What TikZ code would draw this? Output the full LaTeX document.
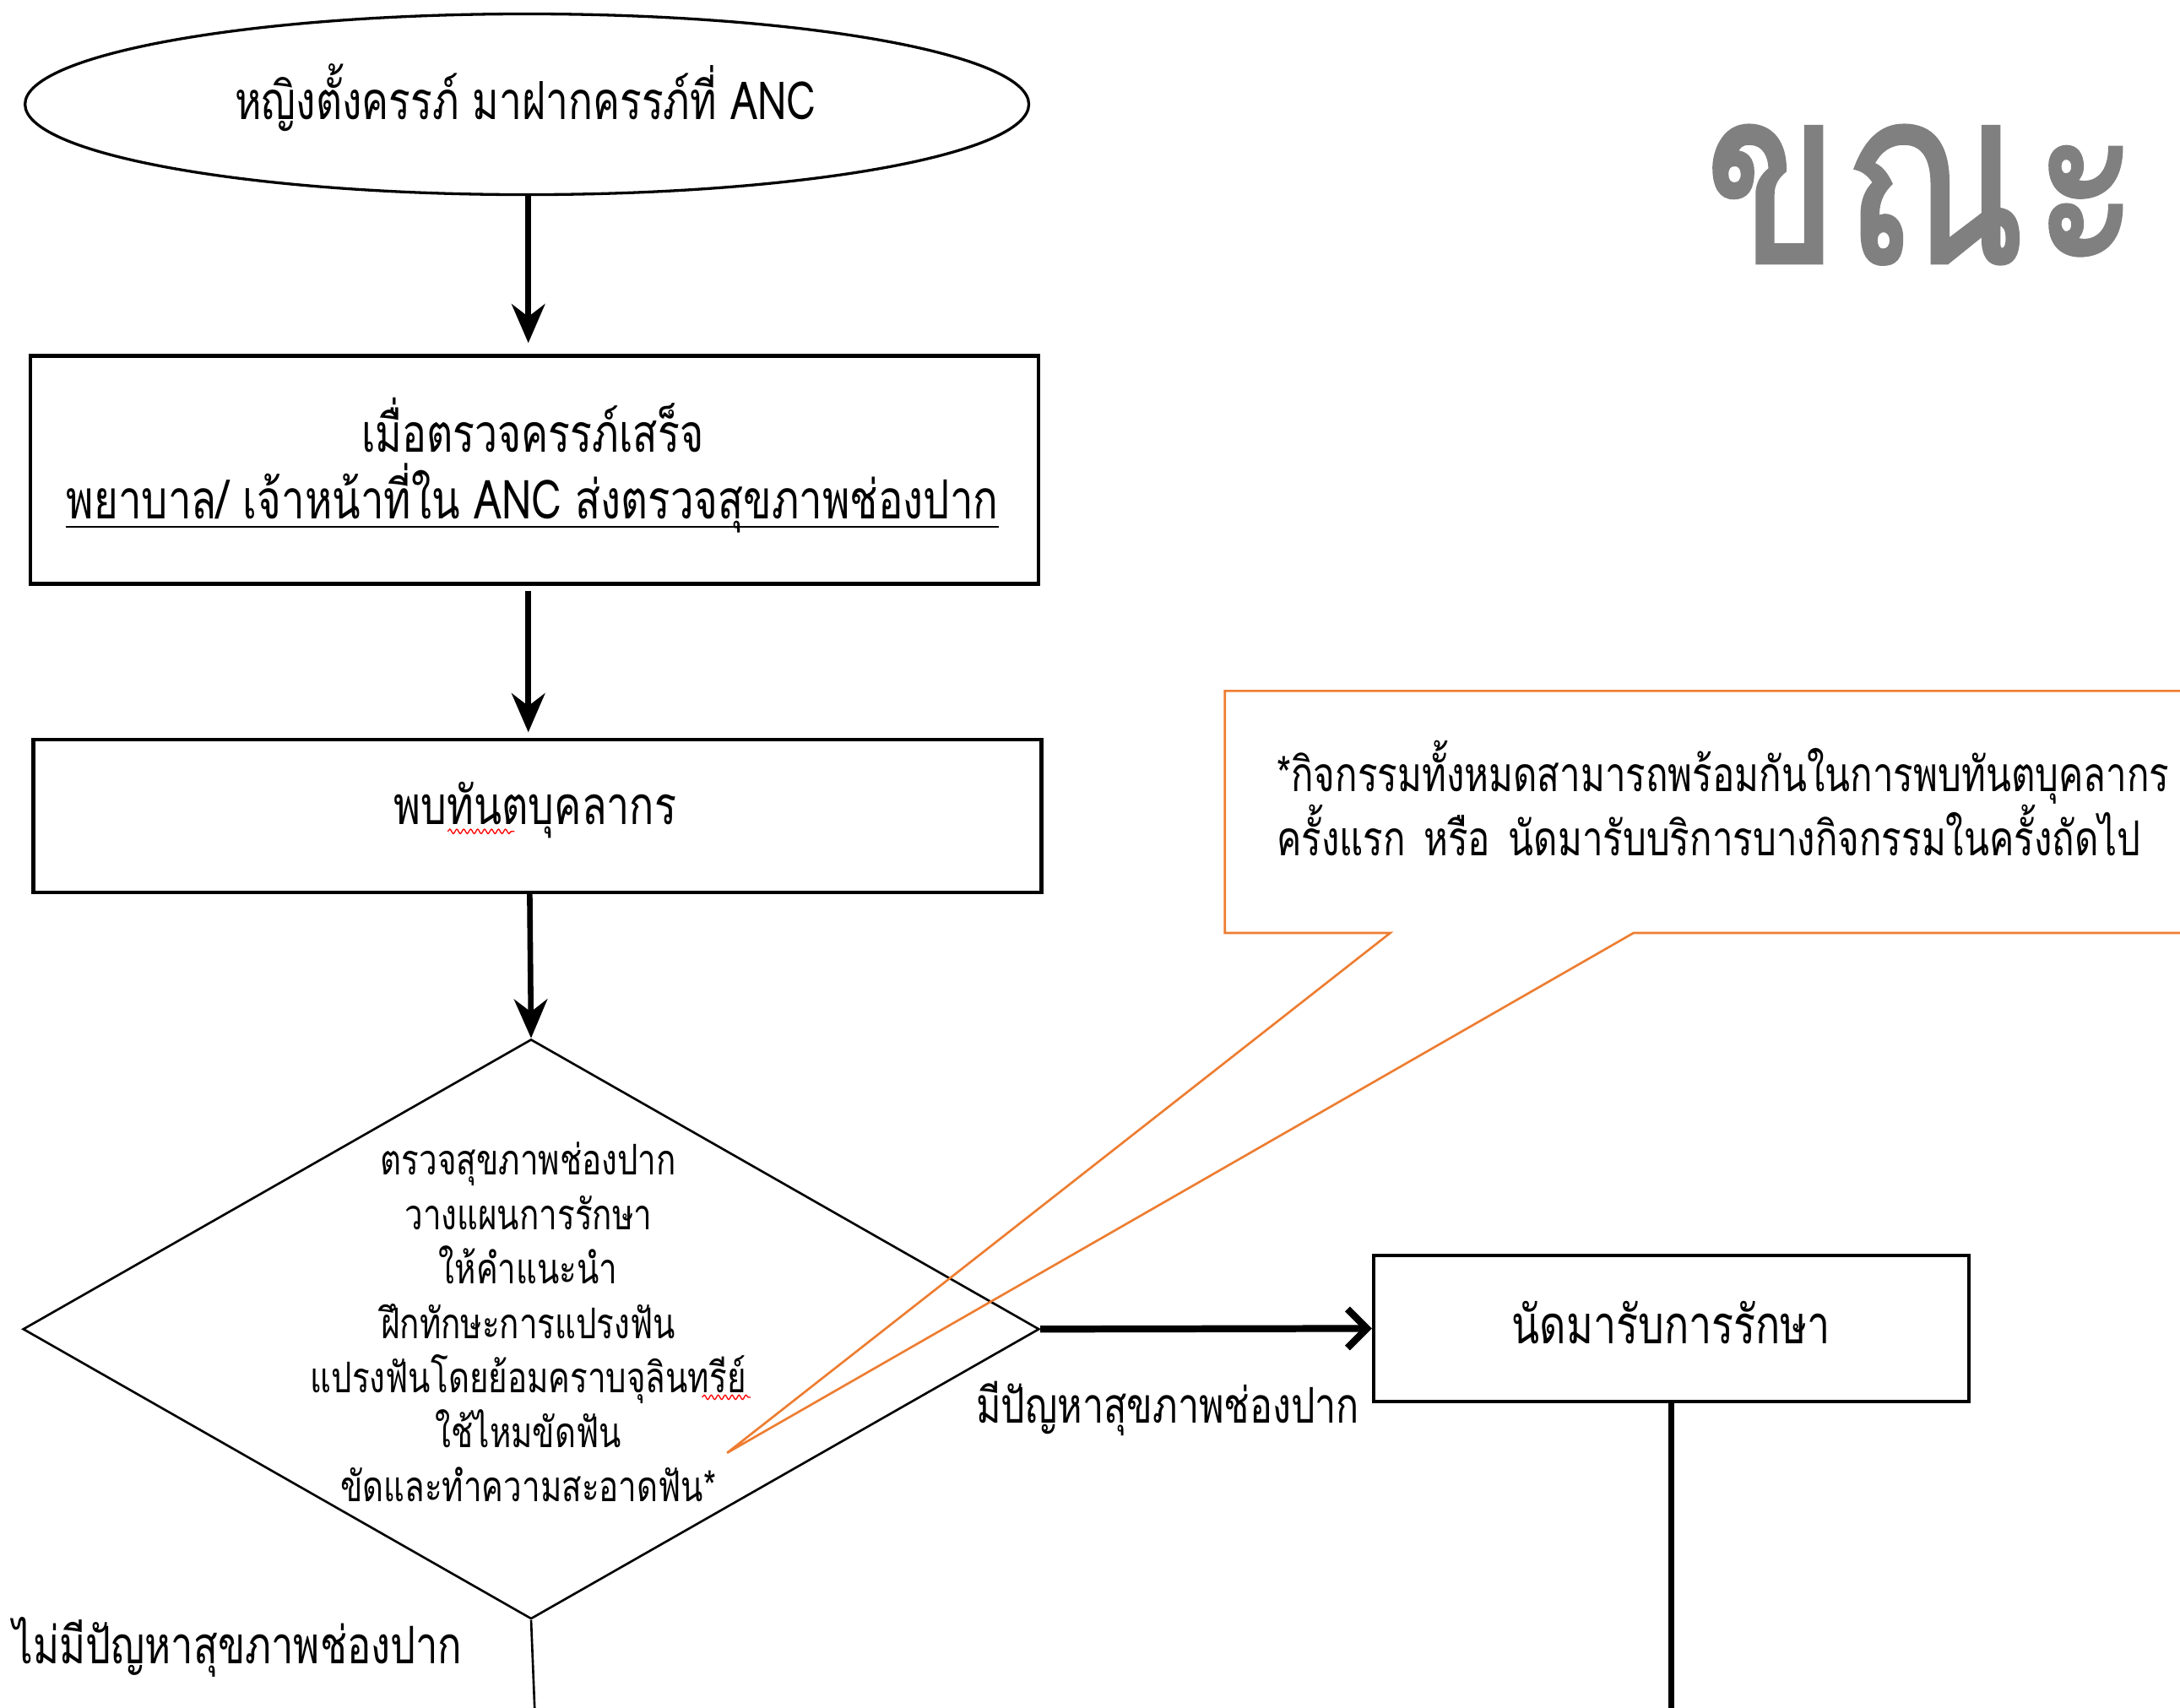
\documentclass[tikz,border=0pt]{standalone}
\usepackage{fontspec}
\newfontfamily\thai[Script=Thai, FakeStretch=0.77]{Loma}
\newfontfamily\thaititle[Script=Thai, FakeStretch=0.8, LetterSpace=2, FakeBold=1.5]{Loma}
\usetikzlibrary{shapes.geometric,arrows.meta,calc,decorations.pathmorphing}
\definecolor{callorange}{HTML}{ED7D31}
\definecolor{titlegray}{HTML}{808080}
\newcommand{\thaisize}[1]{\thai\fontsize{#1}{19.6}\selectfont}
\tikzset{
  flowbox/.style={draw, line width=1.3pt, inner sep=0pt},
  txt/.style={font=\thaisize{15.2}, inner sep=0pt, align=center},
  bigarrow/.style={line width=2pt, -{Stealth[length=14pt,width=12pt]}},
  sidearrow/.style={line width=2.5pt, -{Straight Barb[length=7pt,width=14pt]}},
  flowline/.style={line width=2pt},
  thinline/.style={line width=0.8pt},
  squiggle/.style={red, line width=0.4pt, decorate, decoration={snake, amplitude=0.8pt, segment length=2.5pt}},
}
\begin{document}
\begin{tikzpicture}[x=0.5pt,y=-0.5pt]
\useasboundingbox (0,0) rectangle (1568,1228.5);
% title
\node[anchor=base west, inner sep=0pt, text=titlegray, font=\thaititle\fontsize{88}{92}\selectfont] (title) at (1226,189) {ขณ\hspace{3pt}ะ\hspace{14pt}ตั้งครรภ์};
% ellipse
\node[ellipse, draw, line width=1pt, minimum width=361pt, minimum height=65pt, inner sep=0pt] (start) at (379,75) {};
\node[txt, font=\thaisize{18.9}] (starttxt) at (378,70) {หญิงตั้งครรภ์ มาฝากครรภ์ที่ ANC};
% box 1
\node[flowbox, minimum width=362.5pt, minimum height=82pt] (box1) at (384.5,338) {};
\node[txt, font=\thaisize{19}] (b1l1) at (383,306) {เมื่อตรวจครรภ์เสร็จ};
\node[txt, font=\thaisize{19.4}] (b1l2) at (383,358) {พยาบาล/ เจ้าหน้าที่ใน ANC ส่งตรวจสุขภาพช่องปาก};
\draw[line width=0.8pt] ($(b1l2.base west)+(0,6)$) -- ($(b1l2.base east)+(0,6)$);
% box 2
\node[flowbox, minimum width=362.5pt, minimum height=55pt] (box2) at (386.5,587) {};
\node[txt, font=\thaisize{19.1}] (b2txt) at (385,583) {พบทันตบุคลากร};
\draw[squiggle] (322,598) -- (370,598);
% diamond
\node[diamond, draw, thinline, minimum width=365.5pt, minimum height=208.5pt, inner sep=0pt] (dec) at (382,956) {};
\node[txt] (dectxt) at (380,951) {ตรวจสุขภาพช่องปาก\\วางแผนการรักษา\\ให้คำแนะนำ\\ฝึกทักษะการแปรงฟัน\\แปรงฟันโดยย้อมคราบจุลินทรีย์\\ใช้ไหมขัดฟัน\\ขัดและทำความสะอาดฟัน*};
\draw[squiggle] (505,1005) -- (540,1005);
% box 3
\node[flowbox, minimum width=214pt, minimum height=52.5pt] (box3) at (1202,955.5) {};
\node[txt, font=\thaisize{19.1}] (b3txt) at (1202,951) {นัดมารับการรักษา};
% labels
\node[txt, font=\thaisize{17.7}] (yeslbl) at (840,1013) {มีปัญหาสุขภาพช่องปาก};
\node[txt, font=\thaisize{18.6}] (nolbl) at (171,1185) {ไม่มีปัญหาสุขภาพช่องปาก};
% callout
\node[txt, font=\thai\fontsize{17.3}{23}\selectfont, align=left, anchor=west] (note) at (918,574) {*กิจกรรมทั้งหมดสามารถพร้อมกันในการพบทันตบุคลากร\\ครั้งแรก\hspace{2pt} หรือ\hspace{2pt} นัดมารับบริการบางกิจกรรมในครั้งถัดไป};
\coordinate (tip) at (523,1045);
\draw[callorange, line width=0.8pt] (1620,497) -- (881,497) -- (881,671) -- (1000,671) -- (tip) -- (1175,671) -- (1620,671);
% connectors
\coordinate (boxthreeend) at (1202,1240);
\coordinate (decend) at (385,1240);
\coordinate (a1s) at (380,140);
\coordinate (a2s) at (380,425);
\coordinate (a3s) at (381,642);
\draw[bigarrow, shorten >=4pt] (a1s) -- (a1s |- box1.north);
\draw[bigarrow, shorten >=2pt] (a2s) -- (a2s |- box2.north);
\draw[bigarrow] (a3s) -- (dec.north);
\draw[sidearrow] (dec.east) -- (box3.west);
\draw[flowline] (box3.south) -- (boxthreeend);
\draw[thinline] (dec.south) -- (decend);
\end{tikzpicture}
\end{document}
